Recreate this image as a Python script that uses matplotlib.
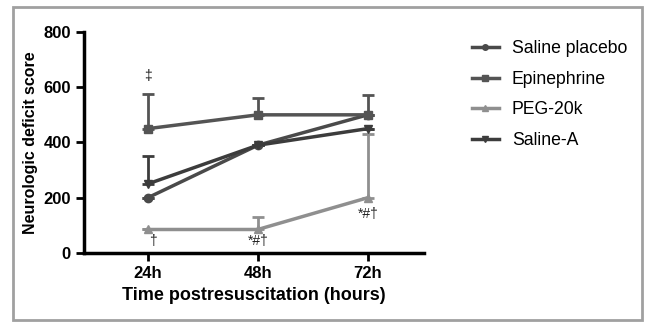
import matplotlib

matplotlib.use('Agg')
import matplotlib.pyplot as plt
from matplotlib.lines import Line2D
from matplotlib.patches import Rectangle

plt.rcParams['font.family'] = ['Liberation Sans', 'DejaVu Sans']

times = ['24h', '48h', '72h']
series = ['Saline placebo', 'Epinephrine', 'PEG-20k', 'Saline-A']
saline_placebo = [200, 390, 500]
epinephrine = [450, 500, 500]
peg_20k = [85, 85, 200]
saline_a = [250, 390, 450]
# upper error (SD) per point, 0 where no bar is visible
err_saline_placebo = [0, 0, 0]
err_epinephrine = [125, 60, 70]
err_peg_20k = [0, 45, 230]
err_saline_a = [100, 0, 0]
notes = [(0, 640, '‡'), (0.05, 45, '†'), (1, 42, '*#†'), (2, 140, '*#†')]

values = [saline_placebo, epinephrine, peg_20k, saline_a]
errors = [err_saline_placebo, err_epinephrine, err_peg_20k, err_saline_a]
colors = ['#4a4a4a', '#545454', '#8f8f8f', '#3c3c3c']
markers = ['o', 's', '^', 'v']

fig = plt.figure(figsize=(6.47, 3.26), dpi=100)
ax = fig.add_axes([0.130, 0.224, 0.525, 0.678])
x = list(range(len(times)))
handles = []
for name, vals, err, c, m in zip(series, values, errors, colors, markers):
    ax.errorbar(x, vals, yerr=[[0] * len(err), err], color=c, marker=m,
                markersize=6, linewidth=2.5, elinewidth=2, capsize=4.5,
                capthick=2)
    handles.append(Line2D([], [], color=c, marker=m, markersize=4,
                          linewidth=2.5, label=name))

for xi, yi, txt in notes:
    ax.text(xi, yi, txt, ha='center', va='center', fontsize=10, color='#222222')

ax.set_xlim(-0.58, 2.51)
ax.set_ylim(0, 800)
ax.set_yticks([0, 200, 400, 600, 800])
ax.set_xticks(x)
ax.set_xticklabels(times)
ax.spines['top'].set_visible(False)
ax.spines['right'].set_visible(False)
for s in ['left', 'bottom']:
    ax.spines[s].set_linewidth(2.5)
ax.tick_params(width=2, length=6, labelsize=12)
for lab in ax.get_xticklabels() + ax.get_yticklabels():
    lab.set_fontweight('bold')
ax.set_ylabel('Neurologic deficit score', fontsize=11.5, fontweight='bold')
ax.set_xlabel('Time postresuscitation (hours)', fontsize=13, fontweight='bold')

ax.legend(handles=handles, loc='upper left', bbox_to_anchor=(0.719, 0.899),
          bbox_transform=fig.transFigure, frameon=False, fontsize=12.7,
          handlelength=1.5, handletextpad=0.75, labelspacing=0.78,
          borderaxespad=0)

fig.patches.append(Rectangle((0.02, 0.018), 0.973, 0.962, transform=fig.transFigure,
                             fill=False, edgecolor='#a0a0a0', linewidth=2))

plt.savefig('out.png', dpi=100)
